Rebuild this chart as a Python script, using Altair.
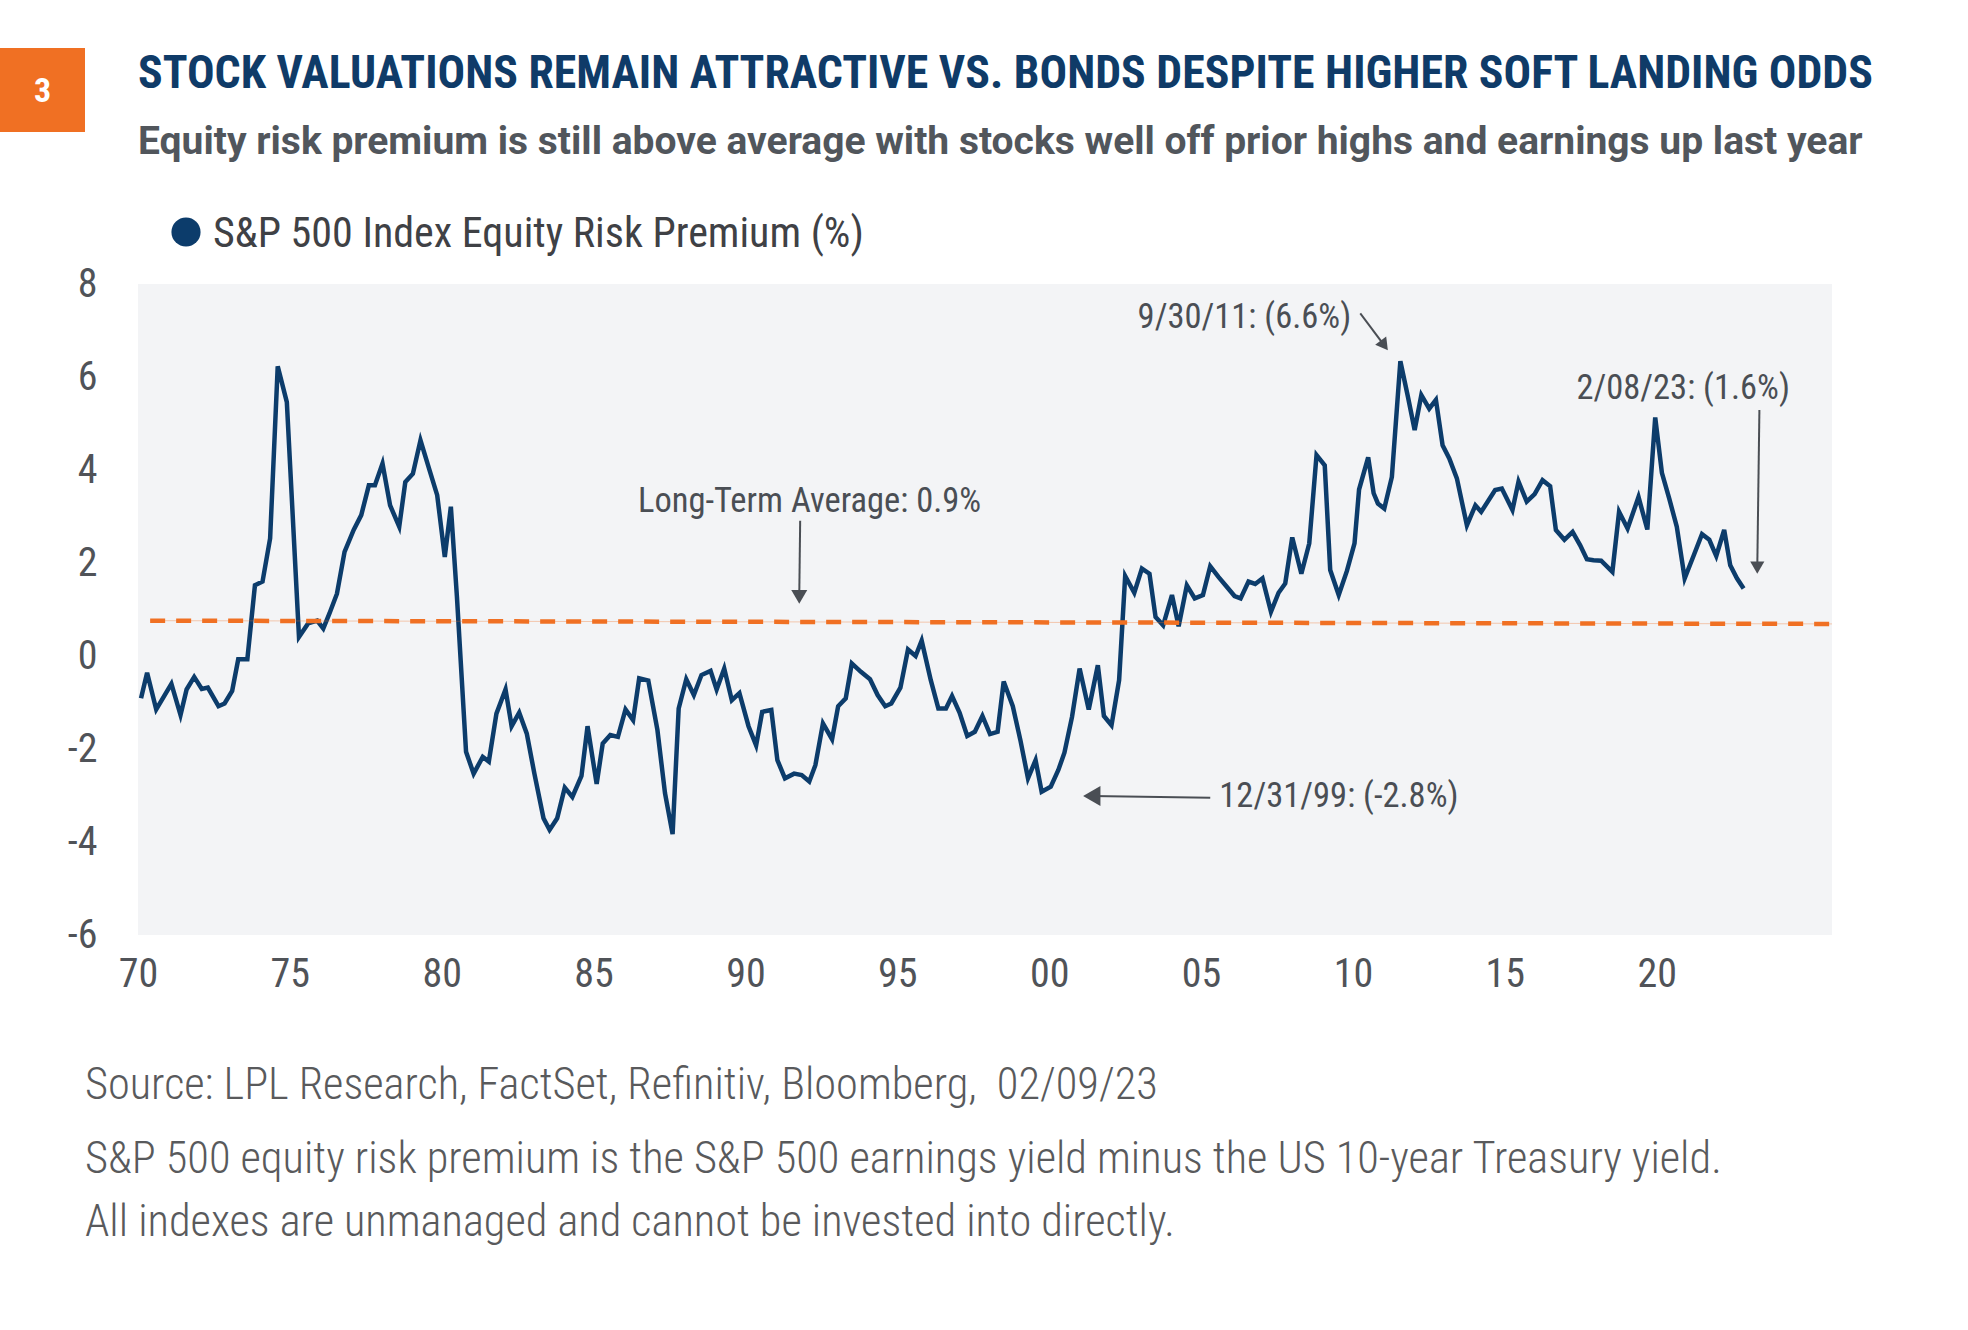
import altair as alt
import pandas as pd

# ---------------- data ----------------
YEARS = [
    1970.1, 1970.3, 1970.6, 1971.1, 1971.4, 1971.6, 1971.85, 1972.1, 1972.3, 1972.65,
    1972.85, 1973.1, 1973.3, 1973.6, 1973.85, 1974.1, 1974.35, 1974.6, 1974.9, 1975.3,
    1975.6, 1975.9, 1976.1, 1976.3, 1976.55, 1976.8, 1977.1, 1977.35, 1977.6, 1977.8,
    1978.05, 1978.3, 1978.6, 1978.8, 1979.05, 1979.3, 1979.6, 1979.85, 1980.1, 1980.3,
    1980.5, 1980.8, 1981.05, 1981.35, 1981.55, 1981.8, 1982.1, 1982.3, 1982.55, 1982.8,
    1983.05, 1983.35, 1983.55, 1983.8, 1984.05, 1984.3, 1984.6, 1984.8, 1985.1, 1985.3,
    1985.55, 1985.8, 1986.05, 1986.3, 1986.5, 1986.8, 1987.1, 1987.35, 1987.6, 1987.8,
    1988.05, 1988.3, 1988.55, 1988.85, 1989.05, 1989.3, 1989.55, 1989.8, 1990.1, 1990.35,
    1990.55, 1990.85, 1991.05, 1991.3, 1991.6, 1991.85, 1992.1, 1992.3, 1992.55, 1992.85,
    1993.05, 1993.3, 1993.5, 1993.8, 1994.1, 1994.35, 1994.6, 1994.8, 1995.1, 1995.35,
    1995.6, 1995.8, 1996.1, 1996.35, 1996.6, 1996.8, 1997.05, 1997.3, 1997.55, 1997.8,
    1998.05, 1998.3, 1998.5, 1998.8, 1999.05, 1999.3, 1999.55, 1999.75, 2000.05, 2000.3,
    2000.5, 2000.75, 2001.0, 2001.3, 2001.6, 2001.8, 2002.05, 2002.3, 2002.5, 2002.8,
    2003.05, 2003.3, 2003.5, 2003.75, 2004.04, 2004.26, 2004.53, 2004.79, 2005.06, 2005.3,
    2005.57, 2005.83, 2006.1, 2006.3, 2006.56, 2006.78, 2007.02, 2007.3, 2007.55, 2007.77,
    2008.0, 2008.3, 2008.56, 2008.8, 2009.07, 2009.25, 2009.53, 2009.8, 2010.05, 2010.2,
    2010.5, 2010.68, 2010.82, 2011.03, 2011.28, 2011.56, 2011.81, 2012.03, 2012.25, 2012.51,
    2012.73, 2012.95, 2013.17, 2013.42, 2013.75, 2014.03, 2014.22, 2014.68, 2014.9, 2015.25,
    2015.45, 2015.72, 2015.98, 2016.24, 2016.49, 2016.68, 2016.96, 2017.23, 2017.48, 2017.7,
    2017.92, 2018.17, 2018.54, 2018.76, 2019.04, 2019.4, 2019.69, 2019.95, 2020.17, 2020.41,
    2020.66, 2020.92, 2021.21, 2021.49, 2021.73, 2021.96, 2022.22, 2022.42, 2022.64, 2022.86,
]
ERP = [
    -0.91, -0.36, -1.15, -0.60, -1.27, -0.72, -0.45, -0.71, -0.68, -1.08,
    -1.02, -0.75, -0.07, -0.07, 1.52, 1.60, 2.53, 6.23, 5.46, 0.41,
    0.70, 0.76, 0.59, 0.91, 1.34, 2.24, 2.71, 3.03, 3.67, 3.67,
    4.14, 3.24, 2.78, 3.74, 3.92, 4.64, 3.99, 3.46, 2.13, 3.21,
    1.27, -2.06, -2.53, -2.17, -2.27, -1.24, -0.72, -1.51, -1.22, -1.67,
    -2.53, -3.49, -3.74, -3.49, -2.83, -3.03, -2.58, -1.51, -2.75, -1.88,
    -1.70, -1.74, -1.15, -1.38, -0.48, -0.53, -1.59, -2.95, -3.83, -1.13,
    -0.50, -0.84, -0.41, -0.32, -0.72, -0.27, -0.95, -0.80, -1.51, -1.92,
    -1.20, -1.16, -2.24, -2.63, -2.53, -2.56, -2.70, -2.35, -1.45, -1.79,
    -1.08, -0.91, -0.16, -0.34, -0.50, -0.84, -1.08, -1.02, -0.68, 0.14,
    0.00, 0.33, -0.52, -1.13, -1.13, -0.86, -1.22, -1.72, -1.63, -1.29,
    -1.68, -1.63, -0.55, -1.08, -1.81, -2.63, -2.24, -2.92, -2.81, -2.45,
    -2.08, -1.31, -0.27, -1.15, -0.20, -1.29, -1.49, -0.52, 1.72, 1.36,
    1.88, 1.77, 0.84, 0.66, 1.31, 0.64, 1.52, 1.24, 1.31, 1.93,
    1.70, 1.50, 1.29, 1.24, 1.60, 1.55, 1.67, 0.95, 1.36, 1.56,
    2.55, 1.77, 2.42, 4.32, 4.10, 1.85, 1.31, 1.83, 2.42, 3.58,
    4.27, 3.50, 3.28, 3.17, 3.85, 6.34, 5.57, 4.86, 5.61, 5.32,
    5.51, 4.53, 4.25, 3.82, 2.81, 3.24, 3.10, 3.57, 3.60, 3.14,
    3.75, 3.32, 3.48, 3.78, 3.65, 2.71, 2.50, 2.67, 2.38, 2.08,
    2.06, 2.05, 1.81, 3.10, 2.74, 3.42, 2.72, 5.13, 3.94, 3.39,
    2.78, 1.67, 2.15, 2.62, 2.50, 2.15, 2.71, 1.95, 1.67, 1.45,
]

# long-term average line as drawn (slightly sloping in the original)
AVG_START, AVG_END = 1970.4, 2025.77
AVG_LEVEL_START, AVG_LEVEL_END = 0.76, 0.69

X_DOMAIN = [1970, 2025.77]
Y_DOMAIN = [-6, 8]
X_TICKS = [1970, 1975, 1980, 1985, 1990, 1995, 2000, 2005, 2010, 2015, 2020]
Y_TICKS = [-6, -4, -2, 0, 2, 4, 6, 8]

ANN_TEXT = ["Long-Term Average: 0.9%", "9/30/11: (6.6%)", "2/08/23: (1.6%)", "12/31/99: (-2.8%)"]
ANN_X = [1992.11, 2009.94, 2020.87, 2005.6]
ANN_Y = [3.31, 7.26, 5.75, -3.03]
ANN_ALIGN = ["center", "right", "center", "left"]

# arrows: start (x, y) -> head (x2, y2); head angle, head size
ARR_X = [1991.80, 2010.24, 2023.38, 2005.30]
ARR_Y = [2.91, 7.37, 5.29, -3.05]
ARR_X2 = [1991.77, 2011.03, 2023.31, 2001.40]
ARR_Y2 = [1.27, 6.68, 1.90, -3.01]
ARR_ANGLE = [180, 143, 180, 270]
ARR_SIZE = [256, 190, 200, 400]

TITLE = "STOCK VALUATIONS REMAIN ATTRACTIVE VS. BONDS DESPITE HIGHER SOFT LANDING ODDS"
SUBTITLE = "Equity risk premium is still above average with stocks well off prior highs and earnings up last year"
LEGEND = "S&P 500 Index Equity Risk Premium (%)"
FOOTER = [
    "Source: LPL Research, FactSet, Refinitiv, Bloomberg,\u00a0 02/09/23",
    "S&P 500 equity risk premium is the S&P 500 earnings yield minus the US 10-year Treasury yield.",
    "All indexes are unmanaged and cannot be invested into directly.",
]

NAVY = "#0c3c6b"
ORANGE = "#f07023"
GREY = "#4a4e54"
FONT = "Liberation Sans Narrow, Roboto Condensed, Roboto, sans-serif"
WIDE_FONT = "Roboto, sans-serif"

W, H = 1694, 651

series = pd.DataFrame({"year": YEARS, "erp": ERP})
xs = alt.Scale(domain=X_DOMAIN, nice=False, zero=False)
ys = alt.Scale(domain=Y_DOMAIN, nice=False, zero=False)

x_axis = alt.Axis(values=X_TICKS, labelExpr="slice('' + datum.value, 2)", title=None,
                  grid=False, domain=False, ticks=False, tickSize=0, labelPadding=19,
                  labelFlush=False, labelFontSize=40, labelColor="#505358", labelFont=FONT)
y_axis = alt.Axis(values=Y_TICKS, labelExpr="replace(datum.label, '\u2212', '-')", title=None,
                  grid=False, domain=False, ticks=False, tickSize=0, labelPadding=41,
                  labelFlush=False, labelFontSize=40, labelColor="#505358", labelFont=FONT)

line = alt.Chart(series).mark_line(color=NAVY, strokeWidth=4.5).encode(
    x=alt.X("year:Q", scale=xs, axis=x_axis),
    y=alt.Y("erp:Q", scale=ys, axis=y_axis),
)

avg_df = pd.DataFrame({"x": [AVG_START], "x2": [AVG_END], "y": [AVG_LEVEL_START], "y2": [AVG_LEVEL_END]})
avg_faint = alt.Chart(avg_df).mark_rule(color=ORANGE, strokeWidth=1, opacity=0.35).encode(
    x=alt.X("x:Q", scale=xs), x2="x2:Q", y=alt.Y("y:Q", scale=ys), y2="y2:Q")
avg_dash = alt.Chart(avg_df).mark_rule(color=ORANGE, strokeWidth=4.5, strokeDash=[15, 11]).encode(
    x=alt.X("x:Q", scale=xs), x2="x2:Q", y=alt.Y("y:Q", scale=ys), y2="y2:Q")

arr_df = pd.DataFrame({"x": ARR_X, "y": ARR_Y, "x2": ARR_X2, "y2": ARR_Y2,
                       "angle": ARR_ANGLE, "size": ARR_SIZE})
arr_lines = alt.Chart(arr_df).mark_rule(color=GREY, strokeWidth=2).encode(
    x=alt.X("x:Q", scale=xs), y=alt.Y("y:Q", scale=ys), x2="x2:Q", y2="y2:Q")
arr_heads = alt.Chart(arr_df).mark_point(shape="triangle-up", filled=True, color=GREY, opacity=1).encode(
    x=alt.X("x2:Q", scale=xs), y=alt.Y("y2:Q", scale=ys),
    angle=alt.Angle("angle:Q", scale=None),
    size=alt.Size("size:Q", scale=None, legend=None))

ann_df = pd.DataFrame({"t": ANN_TEXT, "x": ANN_X, "y": ANN_Y, "a": ANN_ALIGN})
ann_layers = []
for al in ["center", "right", "left"]:
    sub = ann_df[ann_df["a"] == al]
    ann_layers.append(
        alt.Chart(sub).mark_text(align=al, baseline="middle", fontSize=34.5, font=FONT, color=GREY).encode(
            x=alt.X("x:Q", scale=xs), y=alt.Y("y:Q", scale=ys), text="t:N"))


def label(text, x, y, size, color, weight="normal", align="left", baseline="alphabetic", font=FONT):
    return alt.Chart(pd.DataFrame({"t": [text]})).mark_text(
        align=align, baseline=baseline, fontSize=size, fontWeight=weight, font=font, color=color
    ).encode(x=alt.value(x), y=alt.value(y), text="t:N")


box = alt.Chart(pd.DataFrame({"k": [0]})).mark_rect(color=ORANGE).encode(
    x=alt.value(-138), x2=alt.value(-53), y=alt.value(-236), y2=alt.value(-152))
num = label("3", -95.5, -182, 34, "white", weight="bold", align="center")
title = label(TITLE, 0, -196, 45.8, "#0f3b68", weight="bold")
subtitle = label(SUBTITLE, 0, -130, 39, "#51565c", weight="bold", font=WIDE_FONT)
dot = alt.Chart(pd.DataFrame({"k": [0]})).mark_point(filled=True, color=NAVY, size=850, opacity=1).encode(
    x=alt.value(48), y=alt.value(-52))
leg = label(LEGEND, 75, -37, 42, "#3f4145")
f1 = label(FOOTER[0], -53, 815, 44.4, "#595a5c", weight=300)
f2 = label(FOOTER[1], -53, 889, 44.4, "#595a5c", weight=300)
f3 = label(FOOTER[2], -53, 952, 44.4, "#595a5c", weight=300)

chart = alt.layer(
    line, avg_faint, avg_dash, arr_lines, arr_heads, *ann_layers,
    box, num, title, subtitle, dot, leg, f1, f2, f3,
).properties(
    width=W, height=H,
    autosize="none",
    padding={"left": 138, "top": 284, "right": 136, "bottom": 395},
    background="white",
).configure_view(fill="#f3f4f6", stroke=None, strokeWidth=0)

chart.save("out.html", embed_options={"renderer": "svg", "actions": False})
